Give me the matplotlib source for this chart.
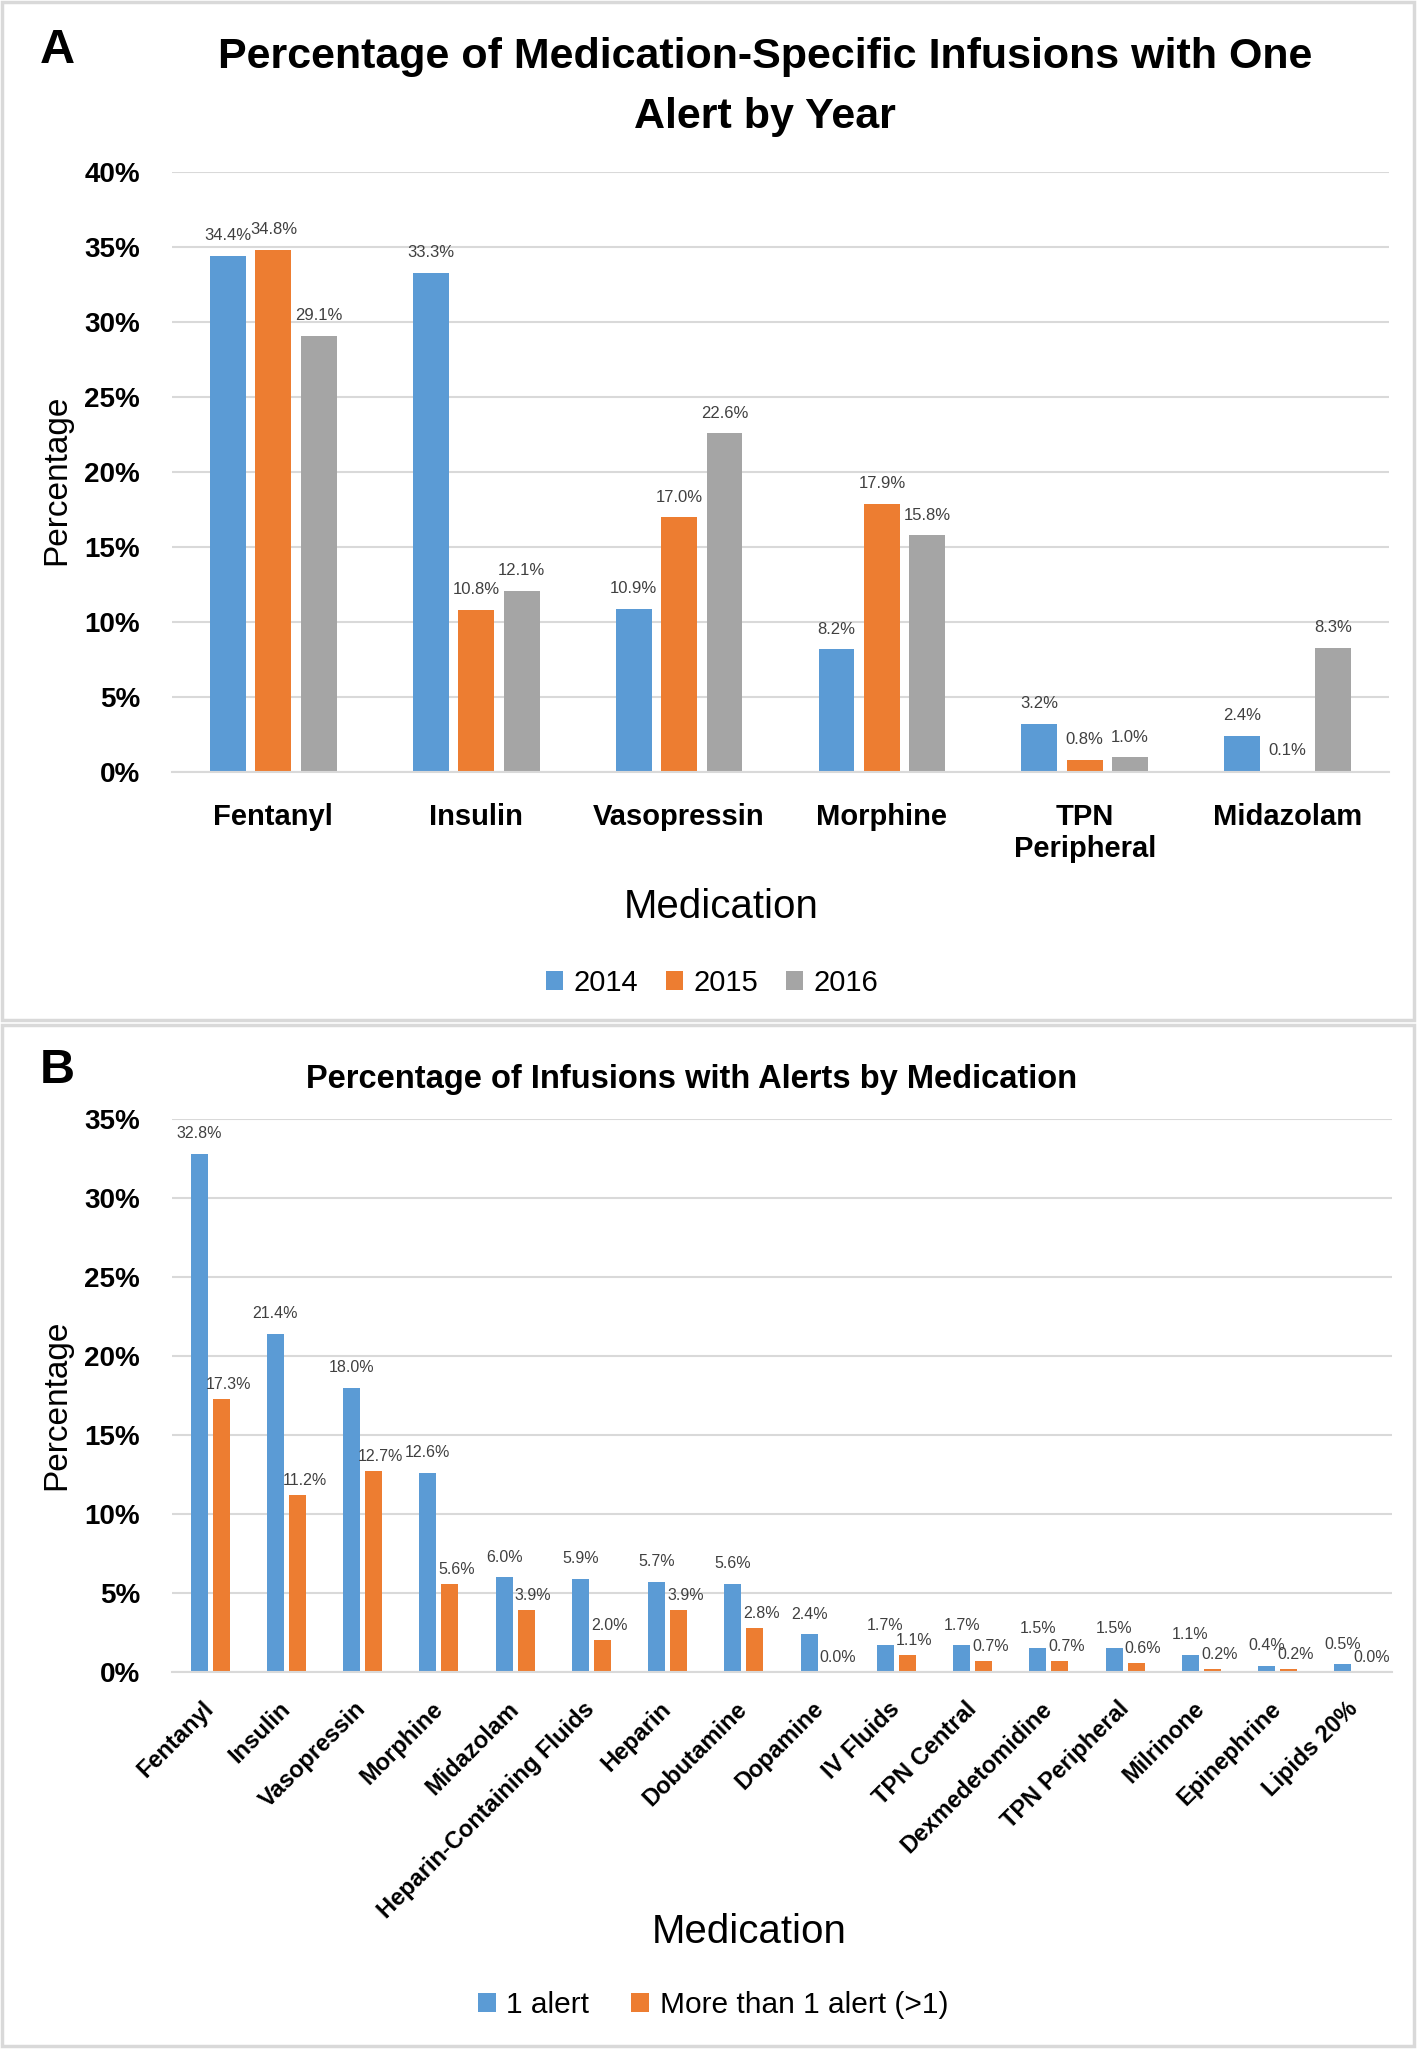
import matplotlib
matplotlib.use("Agg")
import matplotlib.pyplot as plt
from matplotlib.patches import Rectangle, Patch
import numpy as np

plt.rcParams['font.family'] = ['Liberation Sans', 'DejaVu Sans']

# ---------------- data ----------------
meds_a = ["Fentanyl", "Insulin", "Vasopressin", "Morphine", "TPN\nPeripheral", "Midazolam"]
years = ["2014", "2015", "2016"]
vals_2014 = [34.4, 33.3, 10.9, 8.2, 3.2, 2.4]
vals_2015 = [34.8, 10.8, 17.0, 17.9, 0.8, 0.1]
vals_2016 = [29.1, 12.1, 22.6, 15.8, 1.0, 8.3]

meds_b = ["Fentanyl", "Insulin", "Vasopressin", "Morphine", "Midazolam",
          "Heparin-Containing Fluids", "Heparin", "Dobutamine", "Dopamine",
          "IV Fluids", "TPN Central", "Dexmedetomidine", "TPN Peripheral",
          "Milrinone", "Epinephrine", "Lipids 20%"]
one_alert = [32.8, 21.4, 18.0, 12.6, 6.0, 5.9, 5.7, 5.6, 2.4, 1.7, 1.7, 1.5, 1.5, 1.1, 0.4, 0.5]
multi_alert = [17.3, 11.2, 12.7, 5.6, 3.9, 2.0, 3.9, 2.8, 0.0, 1.1, 0.7, 0.7, 0.6, 0.2, 0.2, 0.0]
series_b = ["1 alert", "More than 1 alert (>1)"]

yticks_a = [0, 5, 10, 15, 20, 25, 30, 35, 40]
yticks_b = [0, 5, 10, 15, 20, 25, 30, 35]

BLUE, ORANGE, GRAY = "#5B9BD5", "#ED7D31", "#A5A5A5"
GRID = "#D9D9D9"
LBL = "#404040"

W, H = 1418, 2049
fig = plt.figure(figsize=(W / 100, H / 100), dpi=100)

def fx(px):
    return px / W

def fy(py):
    return 1 - py / H

# panel frames
for (x0, y0, x1, y1) in [(2, 2, 1414, 1020), (2, 1025, 1414, 2046)]:
    fig.patches.append(Rectangle((fx(x0), fy(y1)), fx(x1 - x0), (y1 - y0) / H,
                                 transform=fig.transFigure, fill=False,
                                 edgecolor=GRID, linewidth=2.5))

def style_axes(ax, yticks, ymax):
    ax.set_ylim(0, ymax)
    ax.set_yticks(yticks)
    ax.set_yticklabels([f"{t}%" for t in yticks], fontsize=20, fontweight='bold')
    ax.tick_params(axis='y', length=0, pad=23)
    ax.grid(axis='y', color=GRID, linewidth=1.5)
    ax.set_axisbelow(True)
    for s in ['top', 'right', 'left']:
        ax.spines[s].set_visible(False)
    ax.spines['bottom'].set_color(GRID)
    ax.spines['bottom'].set_linewidth(1.5)

# ---------------- Panel A ----------------
axA = fig.add_axes([fx(172), fy(772), fx(1389 - 172), (772 - 172) / H])
xa = np.arange(len(meds_a))
bw_a, step_a = 0.177, 0.224
for i, (vals, col) in enumerate(zip([vals_2014, vals_2015, vals_2016], [BLUE, ORANGE, GRAY])):
    bars = axA.bar(xa + (i - 1) * step_a, vals, width=bw_a, color=col, label=years[i])
    axA.bar_label(bars, labels=[f"{v:.1f}%" for v in vals], padding=9, fontsize=12, color=LBL)
axA.set_xlim(-0.5, len(meds_a) - 0.5)
style_axes(axA, yticks_a, 40)
axA.set_xticks(xa)
axA.set_xticklabels(meds_a, fontsize=21, fontweight='bold')
axA.tick_params(axis='x', length=0, pad=22)

fig.text(fx(40), fy(63), "A", fontsize=35, fontweight='bold', ha='left', va='baseline')
fig.text(fx(765), fy(68), "Percentage of Medication-Specific Infusions with One",
         fontsize=31, fontweight='bold', ha='center', va='baseline')
fig.text(fx(765), fy(128), "Alert by Year", fontsize=31, fontweight='bold', ha='center', va='baseline')
fig.text(fx(721), fy(918), "Medication", fontsize=29, ha='center', va='baseline')
fig.text(fx(65), fy(480), "Percentage", fontsize=24, rotation=90, rotation_mode='anchor',
         ha='center', va='baseline')

handles_a = [Patch(facecolor=c) for c in [BLUE, ORANGE, GRAY]]
fig.legend(handles_a, years, loc='center', bbox_to_anchor=(fx(712), fy(983)), ncol=3,
           frameon=False, fontsize=21, handlelength=0.6, handleheight=0.6,
           handletextpad=0.35, columnspacing=0.95)

# ---------------- Panel B ----------------
axB = fig.add_axes([fx(172), fy(1672), fx(1392 - 172), (1672 - 1119) / H])
xb = np.arange(len(meds_b))
bw_b, step_b = 0.223, 0.29
label_offsets = [(0, 9), (5, 5)]   # points: (dx, dy) for each series' value labels
for i, (vals, col) in enumerate(zip([one_alert, multi_alert], [BLUE, ORANGE])):
    xpos = xb + (i - 0.5) * step_b
    axB.bar(xpos, vals, width=bw_b, color=col, label=series_b[i])
    for xp, v in zip(xpos, vals):
        axB.annotate(f"{v:.1f}%", xy=(xp, v), xytext=label_offsets[i], textcoords='offset points',
                     ha='center', va='bottom', fontsize=11.5, color=LBL)
axB.set_xlim(-0.5, len(meds_b) - 0.5)
style_axes(axB, yticks_b, 35)
axB.set_xticks(xb)
axB.set_xticklabels(meds_b, fontsize=17, fontweight='bold', rotation=45, ha='right',
                    va='center', rotation_mode='anchor')
axB.tick_params(axis='x', length=0, pad=24)

fig.text(fx(40), fy(1083), "B", fontsize=35, fontweight='bold', ha='left', va='baseline')
fig.text(fx(692), fy(1088), "Percentage of Infusions with Alerts by Medication",
         fontsize=23.5, fontweight='bold', ha='center', va='baseline')
fig.text(fx(749), fy(1943), "Medication", fontsize=29, ha='center', va='baseline')
fig.text(fx(65), fy(1405), "Percentage", fontsize=24, rotation=90, rotation_mode='anchor',
         ha='center', va='baseline')

handles_b = [Patch(facecolor=c) for c in [BLUE, ORANGE]]
fig.legend(handles_b, series_b, loc='center', bbox_to_anchor=(fx(713), fy(2005)), ncol=2,
           frameon=False, fontsize=21.5, handlelength=0.6, handleheight=0.6,
           handletextpad=0.35, columnspacing=1.4)

fig.savefig("out.png", dpi=100)
